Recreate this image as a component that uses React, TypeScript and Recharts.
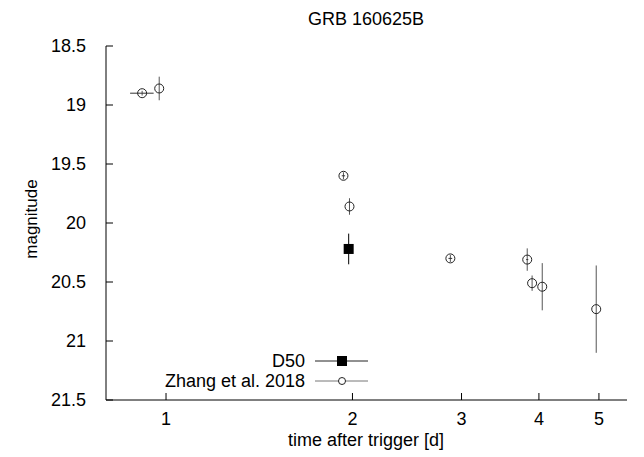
import React from "react";
import { ScatterChart, Scatter, XAxis, YAxis, ErrorBar } from "recharts";

// Zhang et al. 2018
const zhangTime = [0.915, 0.975, 1.934, 1.978, 2.878, 3.83, 3.9, 4.05, 4.95];
const zhangTimeErr = [0.04, 0, 0.012, 0, 0.02, 0.015, 0, 0, 0];
const zhangMag = [18.9, 18.86, 19.6, 19.86, 20.3, 20.31, 20.51, 20.54, 20.73];
const zhangMagErr = [0.02, 0.1, 0.03, 0.07, 0.03, 0.095, 0.065, 0.2, 0.37];

// D50
const d50Time = [1.972];
const d50Mag = [20.22];
const d50MagErr = [0.13];

const xTicks = [1, 2, 3, 4, 5];
const yTicks = [18.5, 19, 19.5, 20, 20.5, 21, 21.5];

const zhangData = zhangTime.map((t, i) => ({
  t,
  tErr: zhangTimeErr[i],
  mag: zhangMag[i],
  magErr: zhangMagErr[i],
}));
const d50Data = d50Time.map((t, i) => ({ t, mag: d50Mag[i], magErr: d50MagErr[i] }));

const FONT = "'Liberation Sans', Arial, sans-serif";
const FS = 18;
const TICK = 7;

const BottomTick = (props: any) => {
  const { x, y, payload } = props;
  return (
    <g>
      <line x1={x} x2={x} y1={y} y2={y - TICK} stroke="#000" />
      <text x={x} y={y + 25} textAnchor="middle" fontSize={FS} fontFamily={FONT} fill="#000">
        {payload.value}
      </text>
    </g>
  );
};

const TopTick = (props: any) => {
  const { x, y } = props;
  return <line x1={x} x2={x} y1={y} y2={y + TICK} stroke="#000" />;
};

const LeftTick = (props: any) => {
  const { x, y, payload } = props;
  return (
    <g>
      <line x1={x} x2={x + TICK} y1={y} y2={y} stroke="#000" />
      <text x={x - 20} y={y + 6} textAnchor="end" fontSize={FS} fontFamily={FONT} fill="#000">
        {payload.value}
      </text>
    </g>
  );
};

const RightTick = (props: any) => {
  const { x, y } = props;
  return <line x1={x} x2={x - TICK} y1={y} y2={y} stroke="#000" />;
};

const OpenCircle = (props: any) => {
  const { cx, cy } = props;
  return <circle cx={cx} cy={cy} r={4.5} fill="none" stroke="#222" strokeWidth={1} />;
};

const FilledSquare = (props: any) => {
  const { cx, cy } = props;
  return <rect x={cx - 5} y={cy - 5} width={10} height={10} fill="#000" />;
};

export default function App() {
  return (
    <div style={{ position: "relative", width: 636, height: 449, fontFamily: FONT, background: "#fff" }}>
      <div
        style={{ position: "absolute", left: 0, width: 716, top: 1, textAlign: "center", fontSize: FS, lineHeight: "21px" }}
      >
        GRB 160625B
      </div>
      <div
        style={{ position: "absolute", left: 0, width: 716, top: 422, textAlign: "center", fontSize: FS, lineHeight: "20px" }}
      >
        time after trigger [d]
      </div>
      <div
        style={{
          position: "absolute",
          left: 24,
          top: 211,
          fontSize: 17,
          lineHeight: "20px",
          transform: "translate(-50%, -50%) rotate(-90deg)",
          whiteSpace: "nowrap",
        }}
      >
        magnitude
      </div>
      <ScatterChart width={636} height={449} margin={{ top: 38, right: 17, left: 38, bottom: 27 }}>
        <XAxis
          xAxisId="b"
          dataKey="t"
          type="number"
          scale="log"
          domain={[0.8, 5.55]}
          allowDataOverflow
          ticks={xTicks}
          tickSize={0}
          tickMargin={0}
          tick={<BottomTick />}
          axisLine={{ stroke: "#000" }}
          height={30}
        />
        <XAxis
          xAxisId="t"
          orientation="top"
          dataKey="t"
          type="number"
          scale="log"
          domain={[0.8, 5.55]}
          allowDataOverflow
          ticks={xTicks}
          tickSize={0}
          tickMargin={0}
          tick={<TopTick />}
          axisLine={{ stroke: "#000" }}
          height={0}
        />
        <YAxis
          yAxisId="l"
          dataKey="mag"
          type="number"
          reversed
          domain={[18.5, 21.5]}
          allowDataOverflow
          ticks={yTicks}
          tickSize={0}
          tickMargin={0}
          tick={<LeftTick />}
          axisLine={{ stroke: "#000" }}
          width={60}
        />
        <YAxis
          yAxisId="r"
          orientation="right"
          dataKey="mag"
          type="number"
          reversed
          domain={[18.5, 21.5]}
          allowDataOverflow
          ticks={yTicks}
          tickSize={0}
          tickMargin={0}
          tick={<RightTick />}
          axisLine={{ stroke: "#000" }}
          width={0}
        />
        <Scatter
          name="Zhang et al. 2018"
          data={zhangData}
          xAxisId="b"
          yAxisId="l"
          shape={<OpenCircle />}
          isAnimationActive={false}
        >
          <ErrorBar dataKey="magErr" direction="y" width={0} stroke="#555" strokeWidth={1} />
          <ErrorBar dataKey="tErr" direction="x" width={0} stroke="#333" strokeWidth={1} />
        </Scatter>
        <Scatter
          name="D50"
          data={d50Data}
          xAxisId="t"
          yAxisId="r"
          shape={<FilledSquare />}
          isAnimationActive={false}
        >
          <ErrorBar dataKey="magErr" direction="y" width={0} stroke="#000" strokeWidth={1} />
        </Scatter>
      </ScatterChart>
      <svg style={{ position: "absolute", left: 140, top: 341 }} width={240} height={44}>
        <text x={157} y={18} textAnchor="end" fontSize={FS} fontFamily={FONT} fill="#000">
          D50
        </text>
        <line x1={167} x2={220} y1={12} y2={12} stroke="#222" />
        <rect x={189} y={7} width={10} height={10} fill="#000" />
        <text x={157} y={38} textAnchor="end" fontSize={FS} fontFamily={FONT} fill="#000">
          Zhang et al. 2018
        </text>
        <line x1={167} x2={220} y1={32} y2={32} stroke="#777" />
        <circle cx={194} cy={32} r={3.5} fill="#fff" stroke="#222" />
      </svg>
    </div>
  );
}
